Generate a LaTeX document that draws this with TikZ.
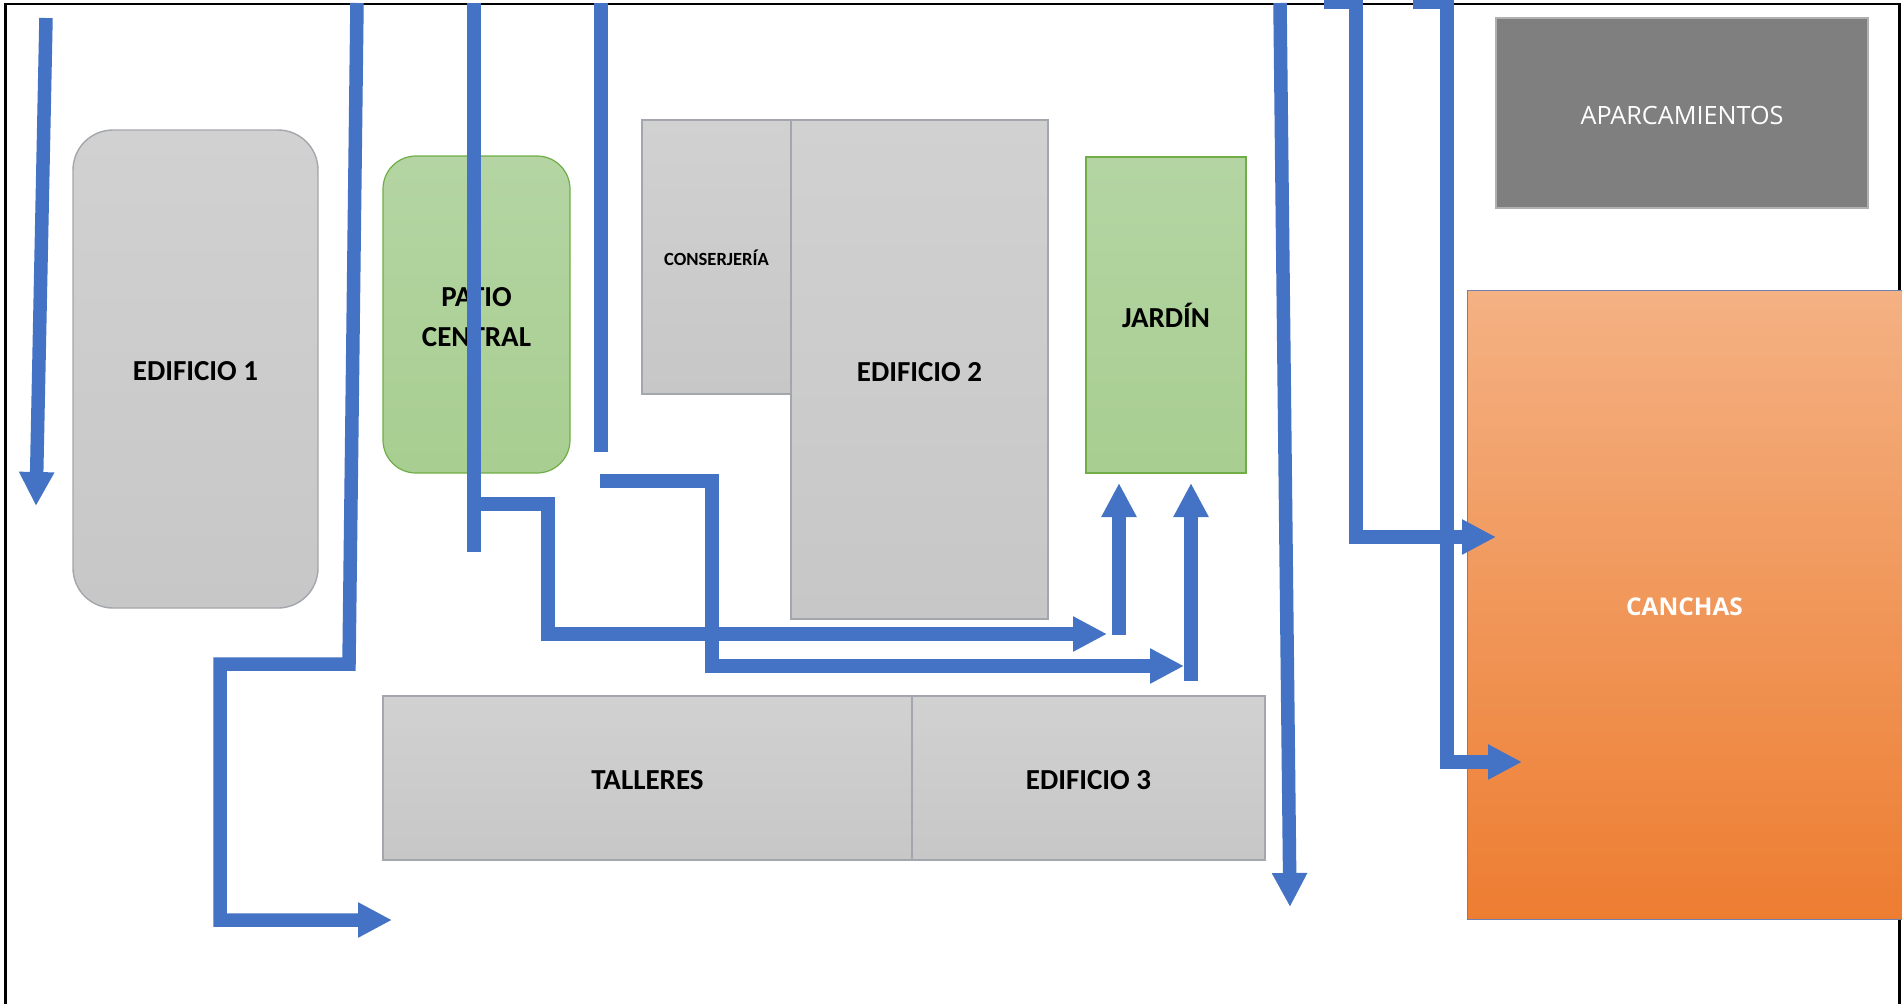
\documentclass[tikz,border=0pt]{standalone}
\usepackage{fontspec}
\setmainfont{Carlito}
\newfontfamily\osans{Open Sans}
\usetikzlibrary{arrows.meta}
\definecolor{pathblue}{HTML}{4472C4}
\definecolor{grayT}{HTML}{D1D1D1}
\definecolor{grayB}{HTML}{C7C7C7}
\definecolor{grayE}{HTML}{A3A6AC}
\definecolor{greenT}{HTML}{B4D5A3}
\definecolor{greenB}{HTML}{A8CE91}
\definecolor{greenE}{HTML}{70AD47}
\definecolor{orangeT}{HTML}{F4B183}
\definecolor{orangeB}{HTML}{ED7D31}
\definecolor{orangeE}{HTML}{6F80B0}
\definecolor{parkfill}{HTML}{7F7F7F}
\definecolor{parkedge}{HTML}{B0B0B0}
\tikzset{
  blk/.style={inner sep=0pt, outer sep=0pt, align=center,
    text height=11.6pt, text depth=0pt,
    font=\fontsize{14.5}{20}\selectfont\bfseries},
  graybox/.style={blk, draw=grayE, line width=0.7pt, top color=grayT, bottom color=grayB},
  greenbox/.style={blk, draw=greenE, line width=0.6pt, top color=greenT, bottom color=greenB},
  walk/.style={draw=pathblue, line width=6.75pt},
  walkarrow/.style={walk, -{Triangle[length=17pt,width=16.5pt]}}
}
\begin{document}
\begin{tikzpicture}[x=0.5pt,y=-0.5pt]
\useasboundingbox (0,0) rectangle (1902,1003);
\clip (0,0) rectangle (1902,1003);
\fill[white] (0,0) rectangle (1902,1003);
% frame
\draw[black, line width=1.4pt] (5.5,4) rectangle (1899.5,1030);

% buildings and areas
\node[graybox, rounded corners=20pt, minimum width=122.5pt, minimum height=239pt] (ed1) at (195.5,369) {EDIFICIO 1};
\node[greenbox, rounded corners=16.5pt, minimum width=93.5pt, minimum height=158.5pt, text height=31.6pt, text depth=0pt] (patio) at (476.5,314.5) {PATIO\\CENTRAL};
\node[graybox, minimum width=74.5pt, minimum height=137pt, text height=8.4pt, font=\fontsize{9.3}{11}\selectfont\bfseries] (conserj) at (716.5,257) {CONSERJERÍA};
\node[graybox, minimum width=128.5pt, minimum height=249.5pt] (ed2) at (919.5,369.5) {EDIFICIO 2};
\node[greenbox, minimum width=80pt, minimum height=158pt, text height=12pt] (jardin) at (1166,315) {JARDÍN};
\node[graybox, minimum width=264.5pt, minimum height=82pt] (talleres) at (647.5,778) {TALLERES};
\node[graybox, minimum width=176.5pt, minimum height=82pt] (ed3) at (1088.5,778) {EDIFICIO 3};
\node[inner sep=0pt, outer sep=0pt, draw=parkedge, line width=0.6pt, fill=parkfill, text=white,
      text height=11.4pt, text depth=0pt,
      minimum width=186pt, minimum height=95pt, font=\osans\fontsize{12.6}{15}\selectfont] (aparc) at (1682,113) {APARCAMIENTOS};
\node[inner sep=0pt, outer sep=0pt, draw=orangeE, line width=0.5pt, top color=orangeT, bottom color=orangeB, text=white,
      text height=11.1pt, text depth=0pt,
      minimum width=217.5pt, minimum height=314.5pt, font=\osans\fontsize{12.2}{15}\selectfont\bfseries] (canchas) at (1684.5,604.5) {CANCHAS};

% path coordinates
\coordinate (a1s) at (46,18);   \coordinate (a1e) at (36,506);
\coordinate (a2s) at (357,3);   \coordinate (a2e) at (392,920);
\coordinate (a3s) at (474,3);   \coordinate (a3m) at (474,552);
\coordinate (a3b) at (474,504); \coordinate (a3e) at (1107,634);
\coordinate (a4s) at (601,3);   \coordinate (a4m) at (601,452);
\coordinate (a4b) at (600,481); \coordinate (a4e) at (1184,666);
\coordinate (u1s) at (1119,635); \coordinate (u1e) at (1119,483);
\coordinate (u2s) at (1191,681); \coordinate (u2e) at (1191,483);
\coordinate (a5s) at (1280,3);  \coordinate (a5e) at (1290,907);
\coordinate (a6s) at (1324,2.5); \coordinate (a6e) at (1496,537);
\coordinate (a7s) at (1413,2.5); \coordinate (a7e) at (1522,762);

% walking routes
\draw[walkarrow] (a1s) -- (a1e);
\draw[walkarrow] (a2s) -- (349,664) -- (220,664) -- (220,920) -- (a2e);
\draw[walk] (a3s) -- (a3m);
\draw[walkarrow] (a3b) -- (548,504) -- (548,634) -- (a3e);
\draw[walk] (a4s) -- (a4m);
\draw[walkarrow] (a4b) -- (712,481) -- (712,666) -- (a4e);
\draw[walkarrow] (u1s) -- (u1e);
\draw[walkarrow] (u2s) -- (u2e);
\draw[walkarrow] (a5s) -- (a5e);
\draw[walkarrow] (a6s) -- (1356,2.5) -- (1356,537) -- (a6e);
\draw[walkarrow] (a7s) -- (1447,2.5) -- (1447,762) -- (a7e);
\end{tikzpicture}
\end{document}
